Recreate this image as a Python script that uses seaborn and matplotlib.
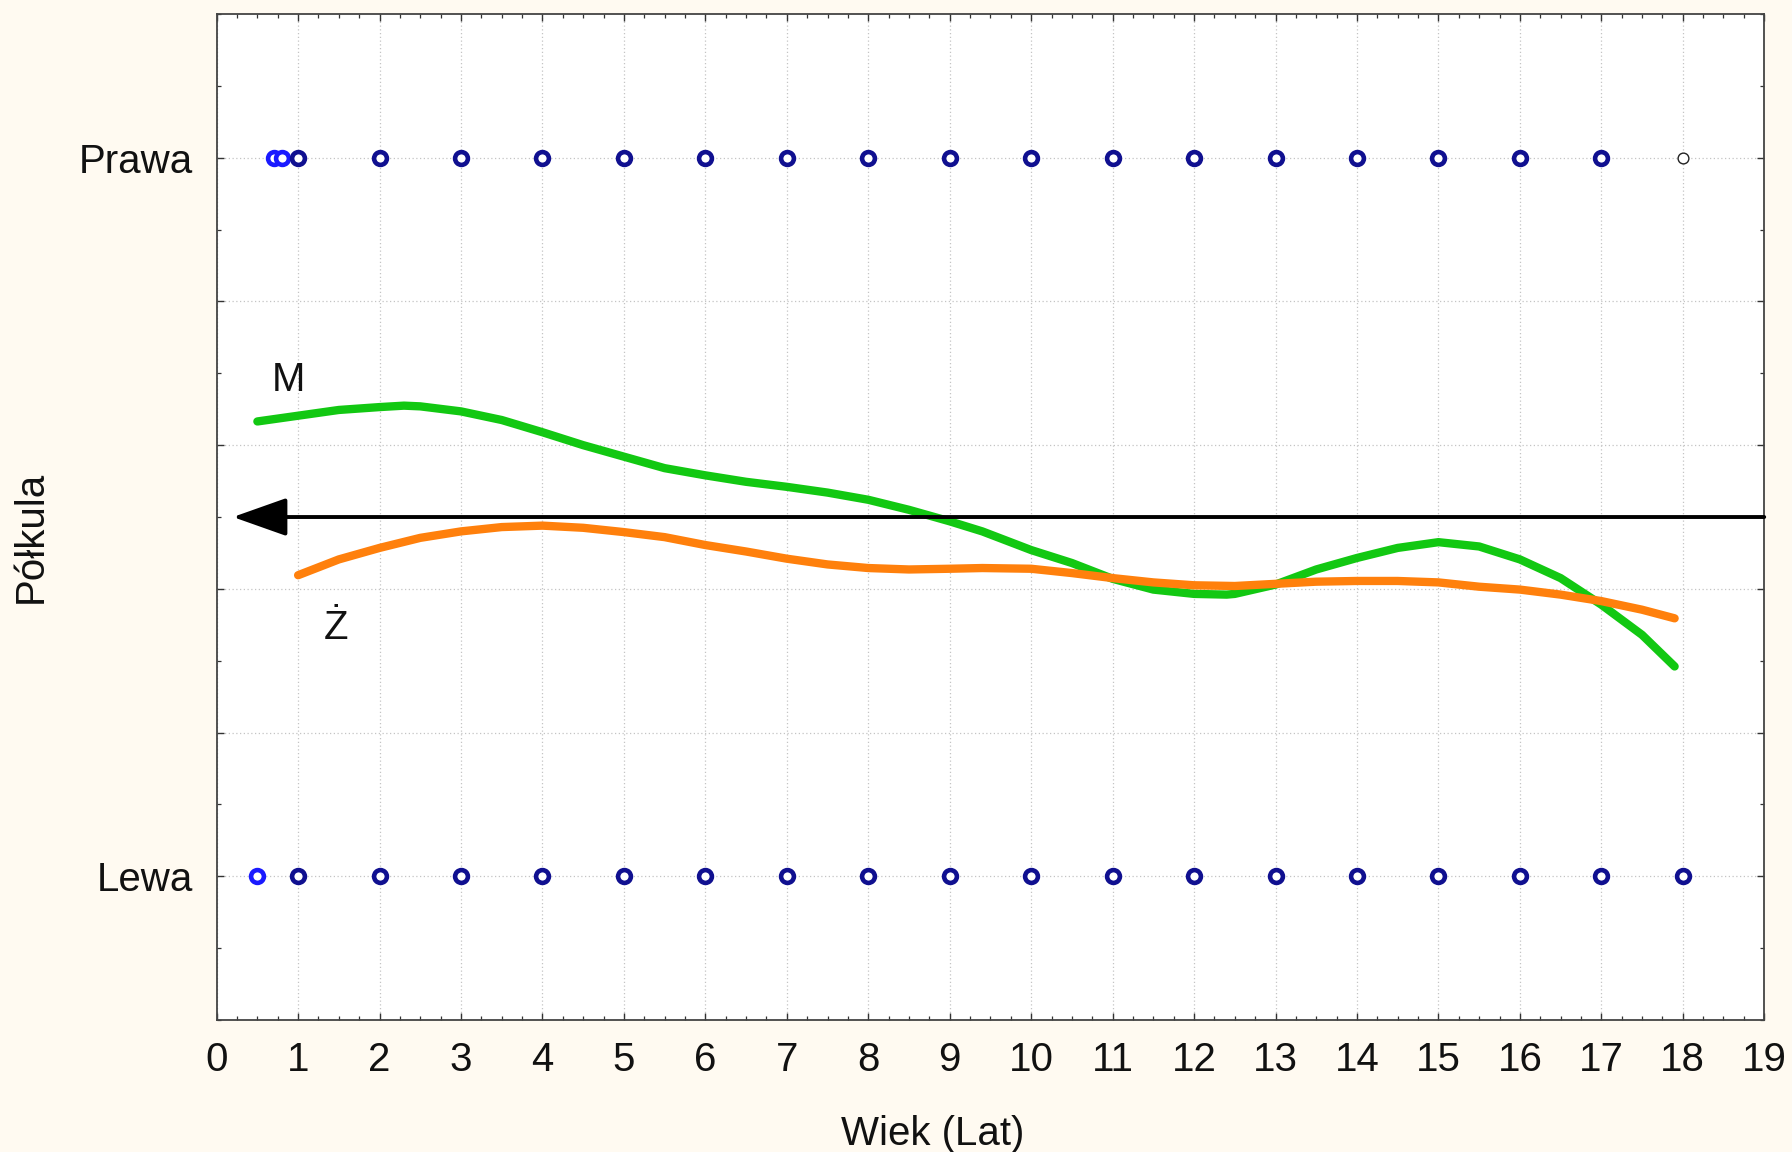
import numpy as np
import pandas as pd
import matplotlib
matplotlib.use("Agg")
import matplotlib.pyplot as plt
import seaborn as sns
from matplotlib.ticker import MultipleLocator

# ---------------- data ----------------
# Smoothed curves (Półkula score vs age), M = male, Ż = female
m_x = [0.5, 1.0, 1.5, 2.0, 2.3, 2.5, 3.0, 3.5, 4.0, 4.5, 5.0, 5.5, 6.0, 6.5, 7.0, 7.5,
       8.0, 8.5, 9.0, 9.4, 10.0, 10.5, 11.0, 11.5, 12.0, 12.4, 12.5, 13.0, 13.5, 14.0,
       14.5, 15.0, 15.5, 16.0, 16.5, 17.0, 17.5, 17.9]
m_y = [0.633, 0.641, 0.649, 0.653, 0.655, 0.654, 0.647, 0.635, 0.618, 0.600, 0.584,
       0.568, 0.558, 0.549, 0.542, 0.534, 0.524, 0.510, 0.494, 0.480, 0.454, 0.436,
       0.414, 0.399, 0.393, 0.392, 0.393, 0.406, 0.427, 0.443, 0.457, 0.465, 0.459,
       0.441, 0.415, 0.378, 0.336, 0.292]

z_x = [1.0, 1.5, 2.0, 2.5, 3.0, 3.5, 4.0, 4.5, 5.0, 5.5, 6.0, 6.5, 7.0, 7.5, 8.0, 8.5,
       9.0, 9.4, 10.0, 10.5, 11.0, 11.5, 12.0, 12.5, 13.0, 13.5, 14.0, 14.5, 15.0, 15.5,
       16.0, 16.5, 17.0, 17.5, 17.9]
z_y = [0.419, 0.441, 0.457, 0.471, 0.480, 0.486, 0.488, 0.485, 0.479, 0.472, 0.461,
       0.452, 0.442, 0.434, 0.429, 0.427, 0.428, 0.429, 0.428, 0.422, 0.415, 0.409,
       0.405, 0.404, 0.407, 0.410, 0.411, 0.411, 0.409, 0.403, 0.399, 0.392, 0.383,
       0.371, 0.359]

# Observations: hemisphere (Lewa = 0, Prawa = 1) at each age
prawa_light_x = [0.7, 0.8]
prawa_dark_x = [1, 2, 3, 4, 5, 6, 7, 8, 9, 10, 11, 12, 13, 14, 15, 16, 17]
prawa_thin_x = [18]
lewa_light_x = [0.5]
lewa_dark_x = [1, 2, 3, 4, 5, 6, 7, 8, 9, 10, 11, 12, 13, 14, 15, 16, 17, 18]

ytick_vals = [0, 0.2, 0.4, 0.6, 0.8, 1.0]
ytick_labels = ["Lewa", "", "", "", "", "Prawa"]
xtick_vals = list(range(0, 20))

curve_labels = ["M", "Ż"]
arrow_level = 0.5

# ---------------- style ----------------
sns.set_style("ticks")
plt.rcParams["font.family"] = ["Liberation Sans", "DejaVu Sans"]
FS = 29
BG = "#fffaf1"
GREEN = "#12c812"
ORANGE = "#ff800c"
DARKBLUE = "#101090"
LIGHTBLUE = "#1a1aff"

fig = plt.figure(figsize=(17.92, 11.52), dpi=100, facecolor=BG)
ax = fig.add_axes([0.1209, 0.1146, 0.8636, 0.8732])
ax.set_facecolor("white")

curves = pd.concat([
    pd.DataFrame({"wiek": m_x, "val": m_y, "plec": curve_labels[0]}),
    pd.DataFrame({"wiek": z_x, "val": z_y, "plec": curve_labels[1]}),
])

pts = pd.concat([
    pd.DataFrame({"wiek": prawa_light_x, "h": 1.0, "g": "light"}),
    pd.DataFrame({"wiek": prawa_dark_x, "h": 1.0, "g": "dark"}),
    pd.DataFrame({"wiek": lewa_light_x, "h": 0.0, "g": "light"}),
    pd.DataFrame({"wiek": lewa_dark_x, "h": 0.0, "g": "dark"}),
])
thin = pd.DataFrame({"wiek": prawa_thin_x, "h": 1.0})

ax.set_axisbelow(True)

sns.lineplot(data=curves, x="wiek", y="val", hue="plec",
             palette={curve_labels[0]: GREEN, curve_labels[1]: ORANGE},
             linewidth=6.0, legend=False, sort=False, ax=ax, zorder=3,
             solid_capstyle="round", solid_joinstyle="round")

for grp, col in [("light", LIGHTBLUE), ("dark", DARKBLUE)]:
    sub = pts[pts["g"] == grp]
    sns.scatterplot(data=sub, x="wiek", y="h", s=85, marker="o",
                    facecolor="white", edgecolor=col, linewidth=3.3,
                    ax=ax, zorder=4, legend=False)
sns.scatterplot(data=thin, x="wiek", y="h", s=60, marker="o",
                facecolor="white", edgecolor="#222222", linewidth=1.0,
                ax=ax, zorder=4, legend=False)

# arrow
ax.annotate("", xy=(0.2, arrow_level), xytext=(19.0, arrow_level),
            arrowprops=dict(arrowstyle="-|>,head_length=2.4,head_width=0.85",
                            mutation_scale=14, color="black", lw=2.8,
                            shrinkA=0, shrinkB=0),
            zorder=5, annotation_clip=False)

# labels on curves
ax.text(0.88, 0.69, curve_labels[0], fontsize=FS, ha="center", va="center", color="#111111")
ax.text(1.47, 0.345, curve_labels[1], fontsize=FS, ha="center", va="center", color="#111111")

# axes
ax.set_xlim(0, 19)
ax.set_ylim(-0.2, 1.2)
ax.set_xticks(xtick_vals)
ax.set_xticklabels([str(v) for v in xtick_vals])
ax.xaxis.set_minor_locator(MultipleLocator(0.25))
ax.set_yticks(ytick_vals)
ax.set_yticklabels(ytick_labels)
ax.yaxis.set_minor_locator(MultipleLocator(0.1))

ax.tick_params(axis="both", which="both", direction="in", top=True, right=True,
               color="#333333", labelsize=FS, labelcolor="#111111")
ax.tick_params(axis="both", which="major", length=5, width=1.0)
ax.tick_params(axis="both", which="minor", length=3, width=0.9)
ax.tick_params(axis="x", which="major", pad=15)
ax.tick_params(axis="y", which="major", pad=17)

ax.grid(True, which="major", linestyle=(0, (1, 2)), color="#c4c4c4", linewidth=0.9)

for sp in ax.spines.values():
    sp.set_color("#444444")
    sp.set_linewidth(1.3)

ax.set_xlabel("Wiek (Lat)", fontsize=FS, color="#111111")
ax.set_ylabel("Półkula", fontsize=FS, color="#111111")
ax.xaxis.set_label_coords(0.463, -0.094)
ax.yaxis.set_label_coords(-0.108, 0.48)

fig.savefig("out.png", dpi=100, facecolor=BG)
